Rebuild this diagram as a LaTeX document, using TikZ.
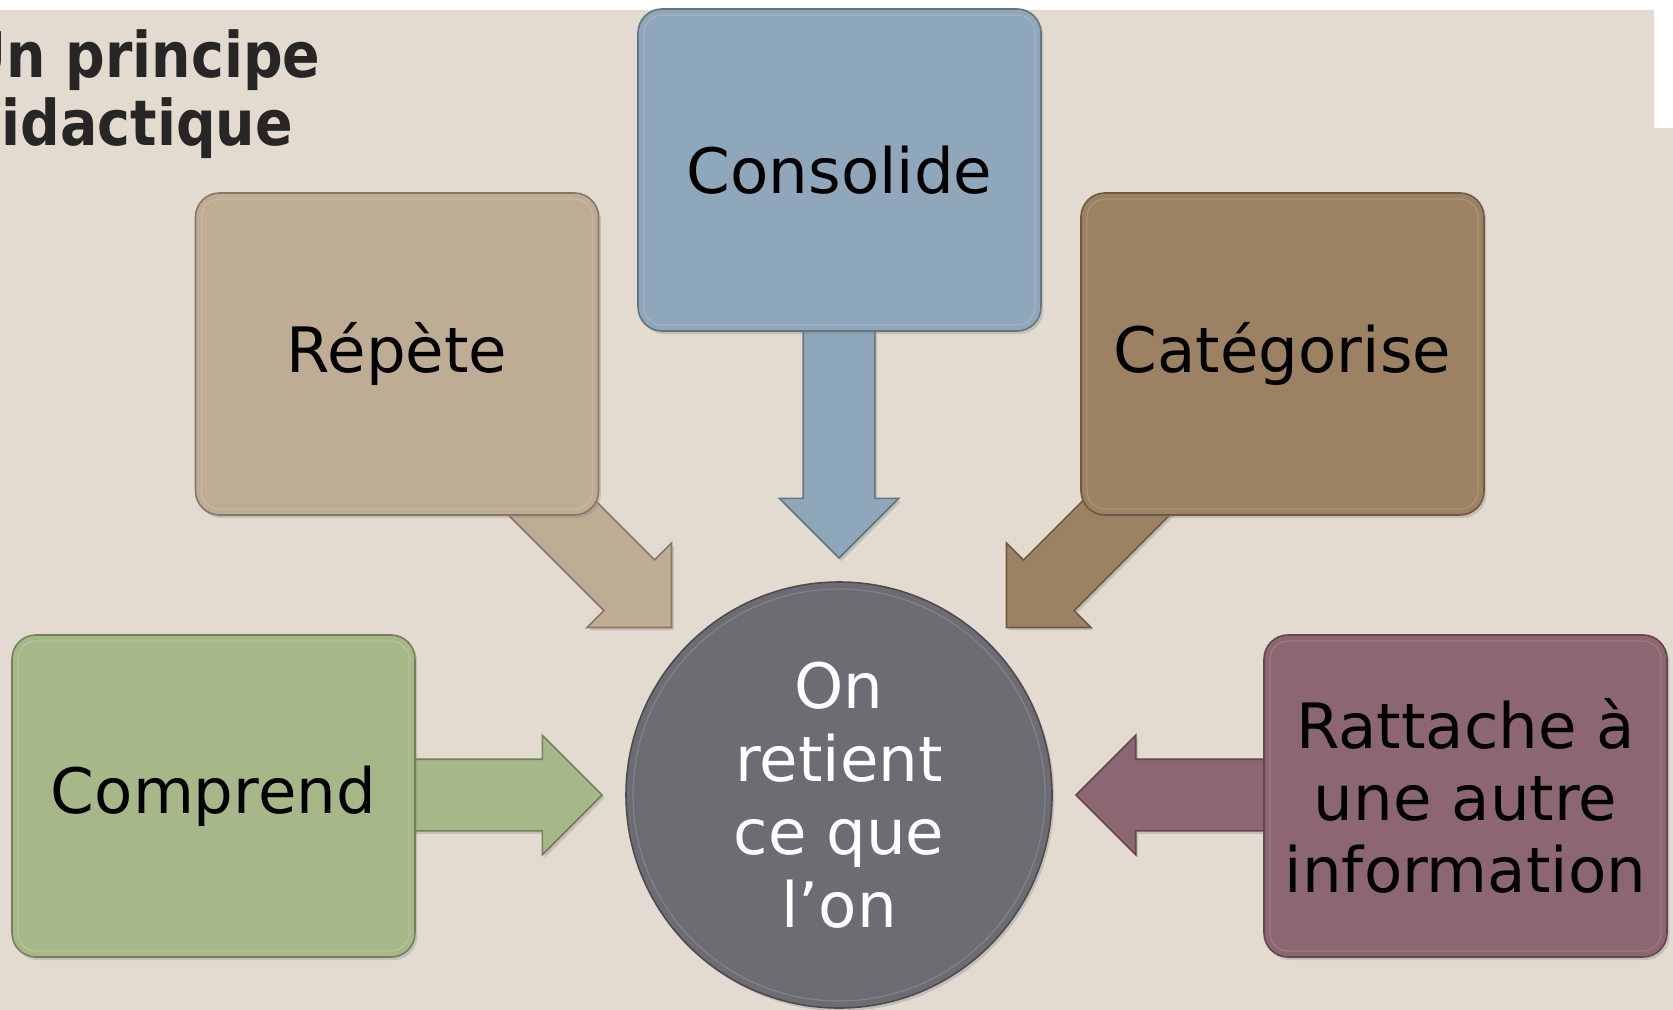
\documentclass[tikz,border=0pt]{standalone}
\usepackage{fontspec}
\setmainfont{DejaVu Sans}
\newfontfamily\titrefont[FakeStretch=0.88]{DejaVu Sans}
\usetikzlibrary{shapes.arrows}
\usetikzlibrary{shadows}
\usetikzlibrary{calc}

\definecolor{fond}{HTML}{E3DBCF}
\definecolor{titre}{HTML}{262626}
\definecolor{bleu}{HTML}{8FA7BA}
\definecolor{sable}{HTML}{BFAC95}
\definecolor{brun}{HTML}{9C8162}
\definecolor{vert}{HTML}{A6B888}
\definecolor{prune}{HTML}{8C6670}
\definecolor{ardoise}{HTML}{6D6C73}

\begin{document}
\begin{tikzpicture}[x=0.5pt,y=-0.5pt,
              ombre/.style={drop shadow={shadow xshift=1.2pt,shadow yshift=-1.5pt,opacity=0.3}},
              boite/.style={draw=#1!70!black, fill=#1, line width=0.8pt, rounded corners=12pt,
                minimum width=201.5pt, minimum height=161pt, inner sep=0pt, align=center,
                font=\fontsize{31.3}{36}\selectfont, ombre,
                path picture={\draw[#1!85!white, line width=0.6pt, rounded corners=9pt]
                  ([shift={(3pt,-3pt)}]path picture bounding box.north west) rectangle
                  ([shift={(-3pt,3pt)}]path picture bounding box.south east);}},
              fleche/.style={single arrow, draw=#1!70!black, fill=#1, line width=0.8pt,
                single arrow head extend=12pt, inner xsep=0pt, inner ysep=17.5pt,
                minimum height=194.5pt, outer sep=0pt, anchor=tip, ombre}]
              \useasboundingbox (0,0) rectangle (1673,1010);
              \fill[white] (0,0) rectangle (1673,1010);
              \fill[fond] (0,10) -- (1654,10) -- (1654,128) -- (1673,128)
                -- (1673,1010) -- (0,1010) -- cycle;
              \node[anchor=north west, inner sep=0pt, align=left, text=titre,
                font=\titrefont\bfseries\fontsize{31.5}{34}\selectfont] (titre) at (-38.5,29)
                {Un principe\\didactique};
              % centre
              \node[circle, fill=ardoise, draw=ardoise!70!black, line width=0.8pt,
                minimum size=213pt, inner sep=0pt, text=white, align=center,
                font=\fontsize{31.3}{36.5}\selectfont, ombre,
                path picture={\draw[ardoise!85!white, line width=0.6pt]
                  (path picture bounding box.center) circle (103pt);}]
                (centre) at (839,795) {On\\retient\\ce que\\l’on};
              % fleches
              \node[fleche=bleu, rotate=-90] (f-consolide) at ($(centre)!1.108!(centre.90)$) {};
              \node[fleche=sable, rotate=-45] (f-repete) at ($(centre)!1.108!(centre.135)$) {};
              \node[fleche=brun, rotate=-135] (f-categorise) at ($(centre)!1.108!(centre.45)$) {};
              \node[fleche=vert, rotate=0] (f-comprend) at ($(centre)!1.108!(centre.180)$) {};
              \node[fleche=prune, rotate=180] (f-rattache) at ($(centre)!1.108!(centre.0)$) {};
              % boites
              \node[boite=bleu] (consolide) at (839.5,170) {Consolide};
              \node[boite=sable] (repete) at (397,354) {Répète};
              \node[boite=brun] (categorise) at (1282.5,354) {Catégorise};
              \node[boite=vert] (comprend) at (213.5,796) {Comprend};
              \node[boite=prune] (rattache) at (1465.5,796) {Rattache à\\une autre\\information};
            \end{tikzpicture}
\end{document}
